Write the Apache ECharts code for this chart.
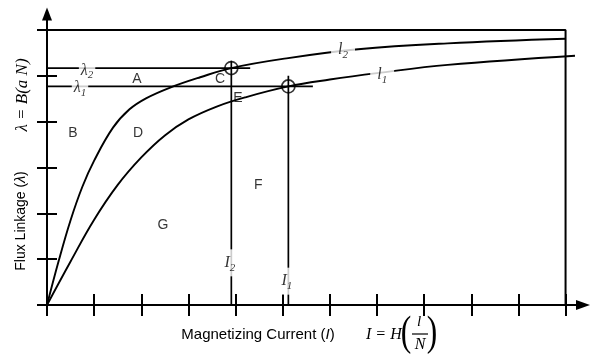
<!DOCTYPE html>
<html>
<head>
<meta charset="utf-8">
<script src="https://cdn.jsdelivr.net/npm/echarts@6/dist/echarts.min.js"></script>
<style>
html,body{margin:0;padding:0;background:#fff;}
#main{width:603px;height:363px;}
</style>
</head>
<body>
<div id="main"></div>
<script>
// ---- data ----
const xTicks = [0,1,2,3,4,5,6,7,8,9,10,11];
const yTicks = [0,1,2,3,4,5,6];
const xAxisMax = 11.37;
const yAxisMax = 6.35;
const frameTop = 6;
const frameRight = 11;

// magnetization curve l2 (upper)
const curveL2 = [[0,0],[0.25,0.97],[0.5,1.85],[0.75,2.58],[1.0,3.15],[1.4,3.87],[1.75,4.27],[2.1,4.51],[2.6,4.74],[3.25,4.97],[3.91,5.17],[5.0,5.37],[6.6,5.58],[8.5,5.71],[11.0,5.81]];
// magnetization curve l1 (lower)
const curveL1 = [[0,0],[0.5,0.95],[1.0,1.86],[1.5,2.62],[2.0,3.22],[2.5,3.7],[3.0,4.05],[3.6,4.33],[4.2,4.53],[5.12,4.77],[6.0,4.92],[7.0,5.06],[8.5,5.24],[11.2,5.44]];

// operating points
const currentNames = ['I2','I1'];
const currentValues = [3.91, 5.12];
const lambdaNames = ['λ2','λ1'];
const lambdaValues = [5.17, 4.77];
const lambdaLineEnd = [4.31, 5.64];
const currentLineTop = [5.33, 5.00];

// region labels
const regionNames = ['A','B','C','D','E','F','G'];
const regionX = [1.91, 0.55, 3.67, 1.93, 4.05, 4.48, 2.46];
const regionY = [4.93, 3.76, 4.93, 3.76, 4.52, 2.62, 1.75];

// annotation anchors for curve / operating point labels
const curveLabelNames = ['l2','l1'];
const curveLabelPos = [[6.28,5.57],[7.11,5.02]];
const lambdaLabelPos = [[0.85,5.12],[0.70,4.73]];
const currentLabelPos = [[3.88,0.92],[5.09,0.52]];

// ---- chart ----
const chart = echarts.init(document.getElementById('main'), null, {renderer:'canvas'});
const ink = '#000';
const serifIt = {fontFamily:'Liberation Serif', fontStyle:'italic', color:ink};
const rich = {
  it: Object.assign({fontSize:16}, serifIt),
  sub: Object.assign({fontSize:11, padding:[10,0,0,0]}, serifIt)
};
function subLabel(name){ return '{it|' + name.slice(0,-1) + '}{sub|' + name.slice(-1) + '}'; }

function lineSeries(data, width, extra){
  return Object.assign({
    type:'line', data:data, showSymbol:false, symbol:'none', silent:true,
    lineStyle:{color:ink, width:width}, z:3, animation:false
  }, extra||{});
}

const series = [];
series.push(lineSeries(curveL2, 1.9, {smooth:0.4}));
series.push(lineSeries(curveL1, 1.9, {smooth:0.4}));
// frame
series.push(lineSeries([[0,frameTop],[frameRight,frameTop],[frameRight,0]], 2));
// guide lines
for (let i=0;i<2;i++){
  series.push(lineSeries([[0,lambdaValues[i]],[lambdaLineEnd[i],lambdaValues[i]]], 1.7));
  series.push(lineSeries([[currentValues[i],0],[currentValues[i],currentLineTop[i]]], 1.7));
}
// circles
series.push({
  type:'scatter', silent:true, animation:false, z:5,
  data: currentValues.map((v,i)=>[v, lambdaValues[i]]),
  symbol:'circle', symbolSize:13,
  itemStyle:{color:'rgba(0,0,0,0)', borderColor:ink, borderWidth:1.7}
});
// labels on lines (white background to break lines)
const lineLabels = [];
curveLabelNames.forEach((n,i)=>lineLabels.push({value:curveLabelPos[i], label:{formatter:subLabel(n), padding:[0,7,0,7]}}));
lambdaNames.forEach((n,i)=>lineLabels.push({value:lambdaLabelPos[i], label:{formatter:subLabel(n), padding:[0,2,0,2]}}));
currentNames.forEach((n,i)=>lineLabels.push({value:currentLabelPos[i], label:{formatter:subLabel(n), padding:[3,0,3,0]}}));
series.push({
  type:'scatter', silent:true, animation:false, z:6, symbolSize:0,
  data: lineLabels,
  label:{show:true, position:'inside', backgroundColor:'#fff', rich:rich}
});
// region letters
series.push({
  type:'scatter', silent:true, animation:false, z:6, symbolSize:0,
  data: regionNames.map((n,i)=>({value:[regionX[i], regionY[i]], name:n})),
  label:{show:true, position:'inside', formatter:'{b}', color:ink, fontFamily:'Liberation Sans', fontSize:14}
});

function xAxisCfg(inside, showLine){
  return {
    type:'value', min:0, max:xAxisMax, interval:1, position:'bottom',
    axisLine:{show:showLine, onZero:false, lineStyle:{color:ink, width:2}, symbol:['none','triangle'], symbolSize:[10,14]},
    axisTick:{show:true, inside:inside, length:11, customValues:xTicks, lineStyle:{color:ink, width:2}},
    axisLabel:{show:false}, splitLine:{show:false}
  };
}
function yAxisCfg(inside, showLine){
  return {
    type:'value', min:0, max:yAxisMax, interval:1, position:'left',
    axisLine:{show:showLine, onZero:false, lineStyle:{color:ink, width:2}, symbol:['none','triangle'], symbolSize:[10,13]},
    axisTick:{show:true, inside:inside, length:10, customValues:yTicks, lineStyle:{color:ink, width:2}},
    axisLabel:{show:false}, splitLine:{show:false}
  };
}

const option = {
  backgroundColor:'#fff',
  animation:false,
  grid:{left:47, right:20, top:14, bottom:58, containLabel:false, outerBoundsMode:'none'},
  xAxis:[xAxisCfg(false,true), xAxisCfg(true,false)],
  yAxis:[yAxisCfg(false,true), yAxisCfg(true,false)],
  series:series,
  graphic:[
    {type:'text', x:21, y:221, rotation:Math.PI/2, silent:true,
     style:{text:'Flux Linkage ({i|λ})', fontFamily:'Liberation Sans', fontSize:14, fill:ink, align:'center', verticalAlign:'middle',
            rich:{i:{fontFamily:'Liberation Sans', fontStyle:'italic', fontSize:14, fill:ink}}}},
    {type:'text', x:23, y:95, rotation:Math.PI/2, silent:true,
     style:{text:'λ = B(a N)', fontFamily:'Liberation Serif', fontStyle:'italic', fontSize:17, fill:ink, align:'center', verticalAlign:'middle'}},
    {type:'text', x:258, y:335, silent:true,
     style:{text:'Magnetizing Current ({i|I})', fontFamily:'Liberation Sans', fontSize:15, fill:ink, align:'center', verticalAlign:'middle',
            rich:{i:{fontFamily:'Liberation Sans', fontStyle:'italic', fontSize:15, fill:ink}}}},
    {type:'text', x:366, y:335, silent:true,
     style:{text:'I = H', fontFamily:'Liberation Serif', fontStyle:'italic', fontSize:16, fill:ink, align:'left', verticalAlign:'middle'}},
    {type:'text', x:406, y:334, silent:true, scaleX:0.75,
     style:{text:'(', fontFamily:'Liberation Serif', fontSize:42, fill:ink, align:'center', verticalAlign:'middle'}},
    {type:'text', x:419, y:322, silent:true,
     style:{text:'l', fontFamily:'Liberation Serif', fontStyle:'italic', fontSize:15, fill:ink, align:'center', verticalAlign:'middle'}},
    {type:'line', silent:true, shape:{x1:412, y1:334, x2:428, y2:334}, style:{stroke:ink, lineWidth:1.2}},
    {type:'text', x:420, y:345, silent:true,
     style:{text:'N', fontFamily:'Liberation Serif', fontStyle:'italic', fontSize:16, fill:ink, align:'center', verticalAlign:'middle'}},
    {type:'text', x:432, y:334, silent:true, scaleX:0.75,
     style:{text:')', fontFamily:'Liberation Serif', fontSize:42, fill:ink, align:'center', verticalAlign:'middle'}}
  ]
};
chart.setOption(option);
</script>
</body>
</html>
